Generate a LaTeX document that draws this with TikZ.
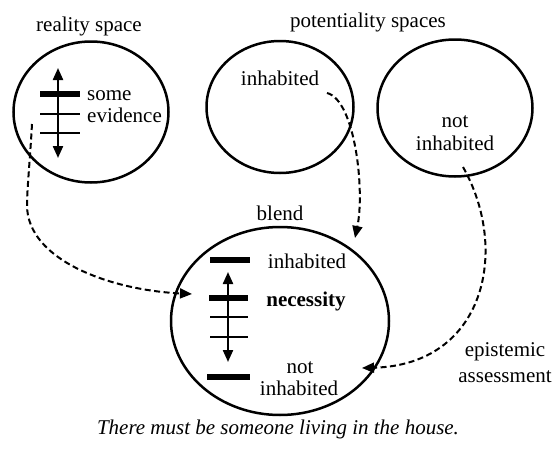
\documentclass[tikz,border=0pt]{standalone}
\usepackage{fontspec}
\setmainfont{Liberation Serif}
\usetikzlibrary{arrows.meta,shapes.geometric}
\begin{document}
\begin{tikzpicture}[x=1pt,y=-1pt,
  spacebox/.style={draw, ellipse, line width=2.5pt, inner sep=0pt},
  lbl/.style={font=\fontsize{21}{23}\selectfont, inner sep=0pt, anchor=base},
  lbll/.style={lbl, anchor=base west},
  dasharrow/.style={line width=2pt, dash pattern=on 6pt off 3.5pt, -{Triangle[length=12pt,width=10pt]}},
  scalearrow/.style={line width=2.2pt, {Triangle[length=12pt,width=10pt]}-{Triangle[length=12pt,width=10pt]}},
  thickbar/.style={line width=6pt},
  thinbar/.style={line width=1.3pt}]
\useasboundingbox (0,0) rectangle (555,450);

% spaces
\node[spacebox, minimum width=155pt, minimum height=141pt] (real) at (91,112) {};
\node[spacebox, minimum width=147pt, minimum height=132pt] (inh) at (280,107) {};
\node[spacebox, minimum width=155pt, minimum height=137pt] (notinh) at (455,108) {};
\node[spacebox, minimum width=218pt, minimum height=188pt] (blend) at (280,321) {};

% titles
\node[lbl] (treal) at (89,31) {reality space};
\node[lbl] (tpot) at (368,27) {potentiality spaces};
\node[lbl] (tblend) at (280,220) {blend};

% reality space contents
\draw[thickbar] (40,94) -- (80,94);
\draw[thinbar] (40,114) -- (80,114);
\draw[thinbar] (40,133) -- (80,133);
\draw[scalearrow] (58,68) -- (58,158);
\node[lbll] (some) at (87,100) {some};
\node[lbll] (evid) at (87,122) {evidence};

% potentiality contents
\node[lbl] (pinh) at (280,85) {inhabited};
\node[lbl] (pnot1) at (455,127) {not};
\node[lbl] (pnot2) at (455,150) {inhabited};

% blend contents
\draw[thickbar] (210,260) -- (250,260);
\draw[thickbar] (209,298) -- (248,298);
\draw[thinbar] (210,317) -- (248,317);
\draw[thinbar] (210,337) -- (248,337);
\draw[thickbar] (207,377) -- (250,377);
\draw[scalearrow] (228,272) -- (228,362);
\node[lbl] (binh) at (307,268) {inhabited};
\node[lbl, font=\fontsize{21}{23}\selectfont\bfseries] (bnec) at (306,306) {necessity};
\node[lbl] (bnot1) at (300,373) {not};
\node[lbl] (bnot2) at (299,395) {inhabited};

% epistemic label
\node[lbl] (epi1) at (505,356) {epistemic};
\node[lbl] (epi2) at (505,382) {assessment};

% caption
\node[lbl, font=\fontsize{21}{23}\selectfont\itshape] (cap) at (278,434) {There must be someone living in the house.};

% connectors
\coordinate (s1) at (32,124);
\coordinate (m1) at (27,205);
\coordinate (e1) at (192,294);
\coordinate (s2) at (327,93);
\coordinate (e2) at (355,238);
\coordinate (s3) at (463,167);
\coordinate (e3) at (362,368);
\draw[dasharrow] (s1) .. controls (30,160) and (27,190) .. (m1) .. controls (27,260) and (110,290) .. (e1);
\draw[dasharrow] (s2) .. controls (355,100) and (365,190) .. (e2);
\draw[dasharrow] (s3) .. controls (510,250) and (485,365) .. (e3);
\end{tikzpicture}
\end{document}
